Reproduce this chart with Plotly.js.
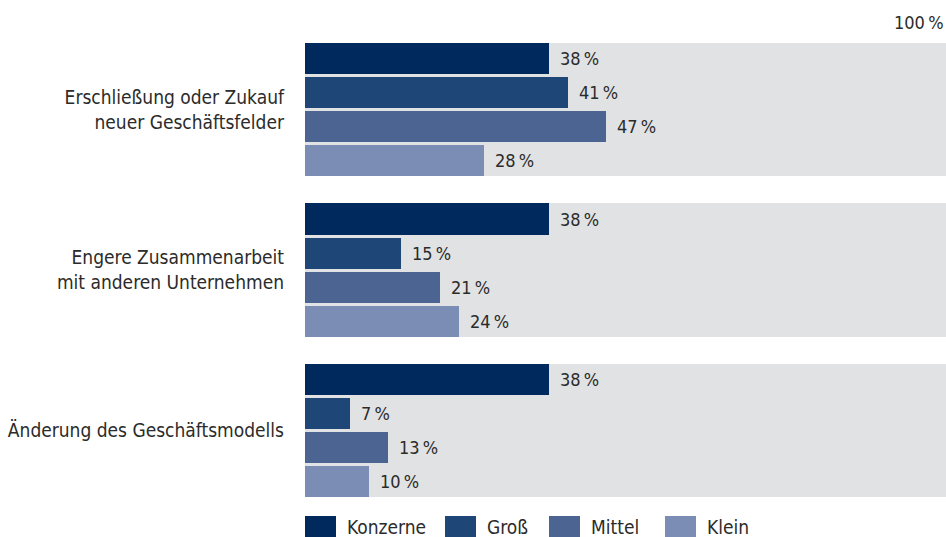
<!DOCTYPE html>
<html><head><meta charset="utf-8">
<script src="https://cdn.plot.ly/plotly-3.0.1.min.js"></script>
<style>html,body{margin:0;padding:0;background:#fff}#chart{width:946px;height:537px}</style>
</head><body><div id="chart"></div>
<script>
const categories = ["Erschließung oder Zukauf<br>neuer Geschäftsfelder", "Engere Zusammenarbeit<br>mit anderen Unternehmen", "Änderung des Geschäftsmodells"];
const seriesNames = ["Konzerne", "Groß", "Mittel", "Klein"];
const konzerne = [38, 38, 38];
const gross = [41, 15, 7];
const mittel = [47, 21, 13];
const klein = [28, 24, 10];
const maxValue = [100, 100, 100];
const colors = ["#002a5d", "#1e4777", "#4c6491", "#7b8db4"];
const FONT = "'Liberation Sans Narrow', 'DejaVu Sans Condensed', 'Roboto Condensed', sans-serif";

const series = [konzerne, gross, mittel, klein];
const groupPitch = 4.72, barW = 31/34, bgW = 133/34;
const centers = categories.map((c, i) => i * groupPitch);

const traces = [];
traces.push({
  type: 'bar', orientation: 'h', x: maxValue, y: centers, width: bgW,
  marker: {color: '#e1e2e4'}, hoverinfo: 'skip', showlegend: false
});
const annotations = [];
series.forEach((vals, j) => {
  const ys = centers.map(c => c + (j - 1.5));
  traces.push({
    type: 'bar', orientation: 'h', name: seriesNames[j], x: vals, y: ys, width: barW,
    marker: {color: colors[j]}, showlegend: false
  });
  vals.forEach((v, i) => {
    annotations.push({x: v, y: ys[i], xref: 'x', yref: 'y', text: v + '\u2009%', showarrow: false,
      xanchor: 'left', xshift: 9, font: {family: FONT, size: 18, color: '#2b2b2b'}});
  });
});
annotations.push({x: 1, y: 1, xref: 'paper', yref: 'paper', yshift: 21, text: maxValue[0] + '\u2009%', showarrow: false,
  xanchor: 'right', yanchor: 'middle', font: {family: FONT, size: 18, color: '#2b2b2b'}});

// manual legend
const shapes = [];
const legX = [305, 445, 549, 665];
seriesNames.forEach((n, j) => {
  shapes.push({type: 'rect', xref: 'paper', yref: 'paper', x0: (legX[j]-305)/641, x1: (legX[j]+31-305)/641,
    y0: -(516-497)/454, y1: -(537-497)/454, fillcolor: colors[j], line: {width: 0}});
  annotations.push({xref: 'paper', yref: 'paper', x: (legX[j]+40-305)/641, y: -(527-497)/454, text: n,
    showarrow: false, xanchor: 'left', yanchor: 'middle', font: {family: FONT, size: 19, color: '#2b2b2b'}});
});

const layout = {
  width: 946, height: 537,
  margin: {l: 305, r: 0, t: 43, b: 40},
  paper_bgcolor: '#fff', plot_bgcolor: '#fff',
  barmode: 'overlay', bargap: 0,
  xaxis: {range: [0, 100], visible: false, fixedrange: true},
  yaxis: {range: [centers[2] + bgW/2, centers[0] - bgW/2], tickvals: centers, ticktext: categories,
    showgrid: false, zeroline: false, showline: false, ticks: '', ticklabelstandoff: 20,
    tickfont: {family: FONT, size: 19, color: '#2b2b2b'}},
  annotations: annotations, shapes: shapes, showlegend: false
};
Plotly.newPlot('chart', traces, layout, {displayModeBar: false, staticPlot: true});
</script></body></html>
